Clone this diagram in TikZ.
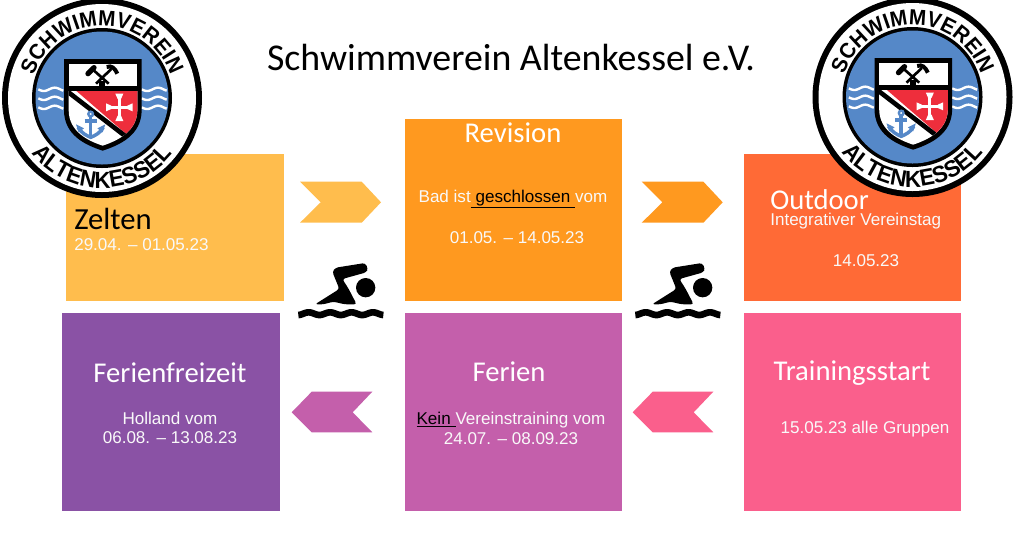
\documentclass[tikz,border=0pt]{standalone}
\usepackage{fontspec}
\usetikzlibrary{decorations.text}
\setmainfont{Liberation Sans}
\newfontfamily\titlefont{Carlito}
\newfontfamily\logofont[FakeStretch=.95]{Liberation Sans}
\definecolor{cZelten}{HTML}{FFBD4D}
\definecolor{cRev}{HTML}{FF991F}
\definecolor{cOut}{HTML}{FF6A36}
\definecolor{cTrain}{HTML}{FA5F8C}
\definecolor{cFer}{HTML}{C45FAB}
\definecolor{cFrei}{HTML}{8A52A5}
\definecolor{cBlue}{HTML}{5588C8}
\definecolor{cRed}{HTML}{EE2E3C}
\newcommand{\blackul}[1]{\textcolor{black}{\vtop{\hbox{#1}\kern.9pt\hrule height .8pt}}}
\tikzset{
  x=.75pt,y=.75pt,
  panel/.style={inner sep=0pt,outer sep=0pt,anchor=north west},
  head/.style={font=\titlefont\fontsize{21.5}{25}\selectfont,text=white,inner sep=0pt},
  body/.style={font=\fontsize{12.8}{15}\selectfont,text=white!95!gray,inner sep=0pt,align=center},
  swimmerpic/.pic={
    \begin{scope}[x=.25pt,y=-.25pt]
      \fill[black] (212,98) circle (29);
      \fill[black,rounded corners=2pt] (112,50) -- (133,102) -- (60,148) -- (85,148) -- (115,140) -- (150,148) -- (185,148) -- (160,100) -- (142,72) -- (214,52) -- (219,40) -- (210,24) -- (122,38) -- cycle;
      \draw[black,line width=5pt] plot[domain=10:265,samples=70,smooth] (\x,{176+4*sin(\x*5.6+40)});
    \end{scope}
  },
  logopic/.pic={
    \fill[black] (102,-98) circle (100);
    \fill[white] (102,-98) circle (94);
    \fill[black] (102,-98) circle (70);
    \fill[cBlue] (102,-98) circle (66.5);
    \path[decorate,decoration={text along path,text align=center,text={|\logofont\bfseries\fontsize{16.3}{16}\selectfont|SCHWIMMVEREIN}}]
      (102,-98) ++(172:72) arc[start angle=172,end angle=8,radius=72];
    \path[decorate,decoration={text along path,text align=center,text={|\logofont\bfseries\fontsize{17.5}{18}\selectfont|ALTENKESSEL}}]
      (102,-98) ++(205:90) arc[start angle=205,end angle=335,radius=90];
    \begin{scope}[x=.25pt,y=-.25pt]
      \foreach \b in {268,295,322}{
        \draw[white,line width=1.8pt] plot[domain=115:190,samples=24,smooth] (\x,{\b+5*sin((\x-115)*5.5)});
        \draw[white,line width=1.8pt] plot[domain=425:500,samples=24,smooth] (\x,{\b+5*sin((\x-425)*5.5)});
      }
      \begin{scope}[shift={(180,165)}]
        \fill[black] (12,12) -- (245,12) -- (245,165) .. controls (245,240) and (180,270) .. (128,287) .. controls (75,270) and (12,240) .. (12,165) -- cycle;
        \fill[white] (26,26) rectangle (232,92);
        \begin{scope}
          \clip (26,108) -- (232,108) -- (232,165) .. controls (232,230) and (170,258) .. (128,272) .. controls (85,258) and (26,230) .. (26,165) -- cycle;
          \fill[white] (0,100) rectangle (260,290);
          \fill[cRed] (40,100) -- (260,100) -- (260,290) -- cycle;
          \draw[black,line width=3.5pt] (10,100) -- (215,258);
        \end{scope}
        % cross
        \draw[white,line width=2.2pt] (142,157) -- (214,157) (178,120) -- (178,194);
        \fill[white] (138,145) -- (154,152) -- (154,162) -- (138,169) -- cycle
                     (218,145) -- (202,152) -- (202,162) -- (218,169) -- cycle
                     (166,116) -- (173,132) -- (183,132) -- (190,116) -- cycle
                     (166,198) -- (173,182) -- (183,182) -- (190,198) -- cycle;
        % anchor
        \draw[cBlue,line width=1.8pt] (92,177) circle (7);
        \draw[cBlue,line width=2.6pt] (92,184) -- (92,242) (74,198) -- (110,198);
        \draw[cBlue,line width=2.6pt] (54,217) .. controls (65,235) and (80,242) .. (92,247) .. controls (104,242) and (120,235) .. (130,217);
        \fill[cBlue] (48,208) -- (72,220) -- (56,232) -- cycle (136,208) -- (112,220) -- (128,232) -- cycle;
        % hammers
        \draw[black,line width=2pt] (100,45) -- (146,86) (154,42) -- (108,86);
        \draw[black,line width=4pt,line cap=round] (84,56) -- (102,38);
        \draw[black,line width=3pt] (140,36) .. controls (155,30) and (165,40) .. (172,56);
        \fill[black] (118,78) rectangle (136,94);
      \end{scope}
    \end{scope}
  }
}
\begin{document}
\begin{tikzpicture}
\useasboundingbox (0,0) rectangle (1024,-551);
\fill[white] (0,0) rectangle (1024,-551);
% panels
\node[panel,fill=cZelten,minimum width=163.5pt,minimum height=110.25pt] (zelten) at (66,-154) {};
\node[panel,fill=cRev,minimum width=162.75pt,minimum height=136.5pt] (revision) at (405,-119) {};
\node[panel,fill=cOut,minimum width=162.75pt,minimum height=110.25pt] (outdoor) at (744,-154) {};
\node[panel,fill=cFrei,minimum width=163.5pt,minimum height=148.5pt] (freizeit) at (62,-313) {};
\node[panel,fill=cFer,minimum width=162.75pt,minimum height=148.5pt] (ferien) at (405,-313) {};
\node[panel,fill=cTrain,minimum width=162.75pt,minimum height=148.5pt] (training) at (744,-313) {};
% chevrons
\fill[cZelten] (300,-181.7) -- (361.7,-181.7) -- (381,-202.3) -- (361.7,-222.7) -- (300,-222.7) -- (320.7,-202.3) -- cycle;
\fill[cRev] (641.7,-181.7) -- (703.4,-181.7) -- (722.7,-202.3) -- (703.4,-222.7) -- (641.7,-222.7) -- (662.4,-202.3) -- cycle;
\fill[cFer] (372.3,-391.7) -- (311.7,-391.7) -- (291.7,-412.3) -- (311.7,-432.3) -- (372.3,-432.3) -- (352.7,-412.3) -- cycle;
\fill[cTrain] (713.3,-391.7) -- (652.7,-391.7) -- (632.7,-412.3) -- (652.7,-432.3) -- (713.3,-432.3) -- (693.7,-412.3) -- cycle;
% swimmers
\pic at (295,-255) {swimmerpic};
\pic at (632,-255) {swimmerpic};
% logos
\pic at (0,0) {logopic};
\pic at (810.5,1) {logopic};
% texts
\node[inner sep=0pt,font=\titlefont\fontsize{28.4}{34}\selectfont] (title) at (511,-57) {Schwimmverein Altenkessel e.V.};
\node[head,text=black,font=\titlefont\fontsize{23}{27}\selectfont,anchor=west] (tz) at (74,-219) {Zelten};
\node[body,anchor=west] (bz) at (74,-245) {29.04. – 01.05.23};
\node[head] (tr) at (513,-133) {Revision};
\node[body] (br1) at (513,-199) {Bad ist\blackul{ geschlossen }vom};
\node[body] (br2) at (517,-237.5) {01.05. – 14.05.23};
\node[head,anchor=west] (to) at (770,-200) {Outdoor};
\node[body,anchor=west] (bo1) at (770,-221.5) {Integrativer Vereinstag};
\node[body] (bo2) at (866,-261) {14.05.23};
\node[head] (tf) at (170,-373) {Ferienfreizeit};
\node[body] (bf1) at (170,-418) {Holland vom};
\node[body] (bf2) at (170,-438) {06.08. – 13.08.23};
\node[head] (te) at (509,-372) {Ferien};
\node[body] (be1) at (511,-420) {\blackul{Kein }Vereinstraining vom};
\node[body] (be2) at (511,-439) {24.07. – 08.09.23};
\node[head] (tt) at (852,-373) {Trainingsstart};
\node[body] (bt) at (865,-429.5) {15.05.23 alle Gruppen};
\end{tikzpicture}
\end{document}
